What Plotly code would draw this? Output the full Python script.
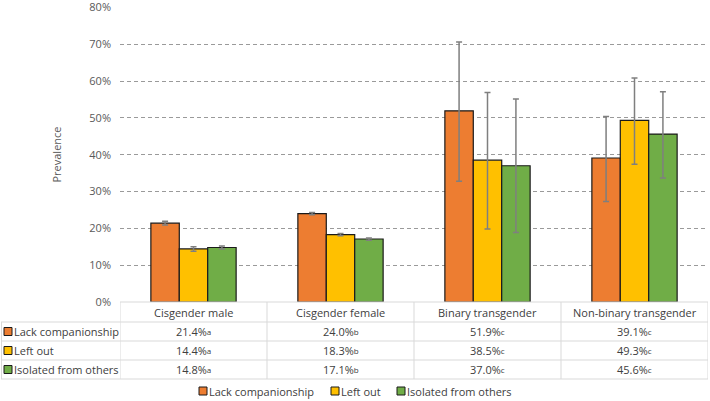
import plotly.graph_objects as go

categories = ["Cisgender male", "Cisgender female", "Binary transgender", "Non-binary transgender"]
series_names = ["Lack companionship", "Left out", "Isolated from others"]
lack = [21.4, 24.0, 51.9, 39.1]
left_out = [14.4, 18.3, 38.5, 49.3]
isolated = [14.8, 17.1, 37.0, 45.6]
lack_err_plus = [0.5, 0.3, 18.7, 11.3]
lack_err_minus = [0.5, 0.3, 19.1, 11.8]
left_err_plus = [0.6, 0.3, 18.4, 11.5]
left_err_minus = [0.6, 0.3, 18.7, 11.9]
iso_err_plus = [0.4, 0.3, 18.1, 11.5]
iso_err_minus = [0.4, 0.3, 18.1, 11.9]
letters = ["a", "b", "c", "c"]
y_ticks = [0, 10, 20, 30, 40, 50, 60, 70, 80]

colors = ["#ED7D31", "#FFC000", "#70AD47"]
values = [lack, left_out, isolated]
errp = [lack_err_plus, left_err_plus, iso_err_plus]
errm = [lack_err_minus, left_err_minus, iso_err_minus]

FONT = "Open Sans"
TXT = "#404040"
GRIDC = "#d9d9d9"

W, H = 710, 401
ml, mr, mt, mb = 120, 2, 7, 99
ph = H - mt - mb
pw = W - ml - mr


def py(pix):
    return (H - mb - pix) / ph


def px(pix):
    return (pix - ml) / pw


fig = go.Figure()
for name, vals, c, ep, em in zip(series_names, values, colors, errp, errm):
    fig.add_trace(go.Bar(
        x=categories, y=vals, name=name, showlegend=False,
        marker=dict(color=c, line=dict(color="#1a1a1a", width=1.2)),
        error_y=dict(type="data", symmetric=False, array=ep, arrayminus=em,
                     color="#7f7f7f", thickness=1.5, width=3),
    ))

shapes = []
annotations = []
header_top = 302
row_lines = [322, 341, 360, 379]
shapes.append(dict(type="line", xref="paper", yref="paper", x0=0, x1=1,
                   y0=py(header_top), y1=py(header_top), line=dict(color=GRIDC, width=1)))
for r in row_lines:
    shapes.append(dict(type="line", xref="paper", yref="paper", x0=px(1), x1=1,
                       y0=py(r), y1=py(r), line=dict(color=GRIDC, width=1)))
for b in [-0.5, 0.5, 1.5, 2.5, 3.5]:
    shapes.append(dict(type="line", xref="x", yref="paper", x0=b, x1=b,
                       y0=py(header_top), y1=py(row_lines[-1]), line=dict(color=GRIDC, width=1)))
shapes.append(dict(type="line", xref="paper", yref="paper", x0=px(1.5), x1=px(1.5),
                   y0=py(row_lines[0]), y1=py(row_lines[-1]), line=dict(color=GRIDC, width=1)))

for cat in categories:
    annotations.append(dict(x=cat, xref="x", y=py((header_top + row_lines[0]) / 2), yref="paper",
                            text=cat, showarrow=False, font=dict(family=FONT, size=11, color=TXT),
                            xanchor="center", yanchor="middle"))
for i, (name, vals, c) in enumerate(zip(series_names, values, colors)):
    top = row_lines[i]
    bot = row_lines[i + 1]
    mid = (top + bot) / 2
    shapes.append(dict(type="rect", xref="paper", yref="paper",
                       x0=px(4), x1=px(12), y0=py(mid + 4), y1=py(mid - 4),
                       fillcolor=c, line=dict(color="#1a1a1a", width=1)))
    annotations.append(dict(x=px(12), xref="paper", y=py(mid), yref="paper", text=name,
                            showarrow=False, xanchor="left", yanchor="middle",
                            font=dict(family=FONT, size=11, color=TXT)))
    for cat, v, L in zip(categories, vals, letters):
        annotations.append(dict(x=cat, xref="x", y=py(mid), yref="paper",
                                text=f"{v:.1f}%<span style='font-size:8px;baseline-shift:1.5px'>{L}</span>",
                                showarrow=False, xanchor="center", yanchor="middle",
                                font=dict(family=FONT, size=11, color=TXT)))

legend_y = 391
legend_sq_x = [199, 331, 397]
for name, c, sx in zip(series_names, colors, legend_sq_x):
    shapes.append(dict(type="rect", xref="paper", yref="paper",
                       x0=px(sx), x1=px(sx + 8), y0=py(legend_y + 4), y1=py(legend_y - 4),
                       fillcolor=c, line=dict(color="#1a1a1a", width=1)))
    annotations.append(dict(x=px(sx + 8), xref="paper", y=py(legend_y), yref="paper", text=name,
                            showarrow=False, xanchor="left", yanchor="middle",
                            font=dict(family=FONT, size=11, color=TXT)))

fig.update_layout(
    width=W, height=H,
    margin=dict(l=ml, r=mr, t=mt, b=mb),
    paper_bgcolor="white", plot_bgcolor="white",
    barmode="group", bargap=0.42, bargroupgap=0,
    font=dict(family=FONT, color=TXT),
    shapes=shapes, annotations=annotations,
    xaxis=dict(range=[-0.5, 3.5], showticklabels=False, showgrid=False, zeroline=False,
               showline=False, ticks="", automargin=False),
    yaxis=dict(range=[0, 80.1], tickvals=y_ticks, ticktext=[f"{t}%" for t in y_ticks],
               showgrid=True, gridcolor="#9a9a9a", griddash="4px,3px", gridwidth=1,
               zeroline=False, showline=False, ticks="", ticklabelstandoff=8,
               ticklabeloverflow="allow", automargin=False,
               tickfont=dict(family=FONT, size=11, color="#595959"),
               title=dict(text="Prevalence", standoff=25,
                          font=dict(family=FONT, size=11, color="#595959"))),
)

fig.write_html("out.html", config={"displayModeBar": False},
               post_script="document.body.style.margin='0';document.body.style.overflow='hidden';")
